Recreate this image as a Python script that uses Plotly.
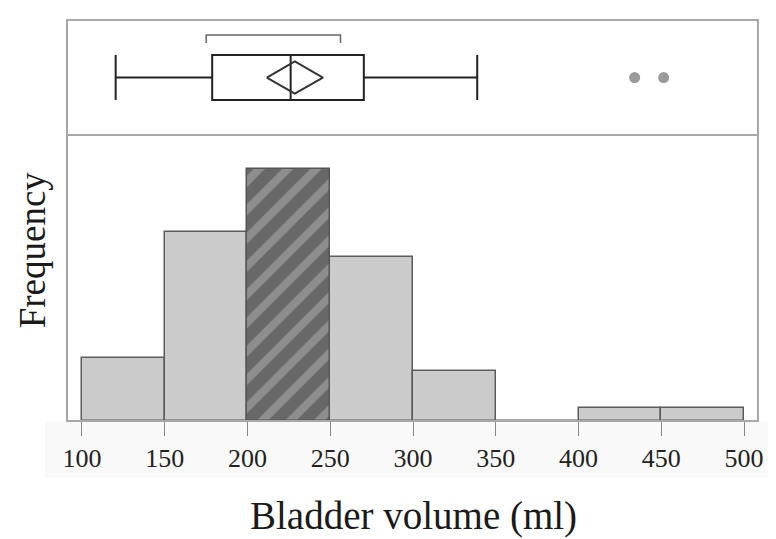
import plotly.graph_objects as go

# ---- data ----
bin_starts = [100, 150, 200, 250, 300, 350, 400, 450]
bin_width = 50
counts = [5, 15, 20, 13, 4, 0, 1, 1]
highlight_start = 200

whisker_low = 120.4
q1 = 178.7
median = 226.1
q3 = 270.3
whisker_high = 338.8
outliers = [433.9, 451.4]
mean = 228.6
mean_ci = [211.7, 245.6]
shortest_half = [175.1, 256.2]

x_ticks = [100, 150, 200, 250, 300, 350, 400, 450, 500]

# ---- build ----
centers = [s + bin_width / 2 for s in bin_starts]
plain_y = [c if s != highlight_start else 0 for s, c in zip(bin_starts, counts)]
hi_x = [c for s, c in zip(bin_starts, centers) if s == highlight_start]
hi_y = [c for s, c in zip(bin_starts, counts) if s == highlight_start]

SERIF = "Liberation Serif, Times New Roman, serif"
fig = go.Figure()

fig.add_trace(go.Bar(
    x=centers, y=plain_y, width=bin_width,
    marker=dict(color="#cbcbcb", line=dict(color="#5c5c5c", width=1.5)),
    xaxis="x", yaxis="y", showlegend=False, hoverinfo="skip"))

fig.add_trace(go.Bar(
    x=hi_x, y=hi_y, width=bin_width,
    marker=dict(color="#686868", line=dict(color="#555555", width=1.5),
                pattern=dict(shape="/", fgcolor="#8e8e8e", bgcolor="#686868",
                             size=20, solidity=0.4, fgopacity=1)),
    xaxis="x", yaxis="y", showlegend=False, hoverinfo="skip"))

# box plot panel
fig.add_trace(go.Box(
    y=[0.5], q1=[q1], median=[median], q3=[q3],
    lowerfence=[whisker_low], upperfence=[whisker_high],
    orientation="h", width=0.39, whiskerwidth=1.0,
    fillcolor="white", line=dict(color="#222222", width=2),
    boxpoints=False, xaxis="x", yaxis="y2", showlegend=False, hoverinfo="skip"))

fig.add_trace(go.Scatter(
    x=outliers, y=[0.5] * len(outliers), mode="markers",
    marker=dict(size=11, color="#9a9a9a"),
    xaxis="x", yaxis="y2", showlegend=False, hoverinfo="skip"))

h = 0.14
fig.add_trace(go.Scatter(
    x=[mean_ci[0], mean, mean_ci[1], mean, mean_ci[0]],
    y=[0.5, 0.5 + h, 0.5, 0.5 - h, 0.5], mode="lines",
    line=dict(color="#333333", width=2),
    xaxis="x", yaxis="y2", showlegend=False, hoverinfo="skip"))

fig.add_trace(go.Scatter(
    x=[shortest_half[0], shortest_half[0], shortest_half[1], shortest_half[1]],
    y=[0.80, 0.87, 0.87, 0.80], mode="lines",
    line=dict(color="#666666", width=1.5),
    xaxis="x", yaxis="y2", showlegend=False, hoverinfo="skip"))

split = 0.713
# page body has an 8px default margin, so the figure is sized/margined to compensate
fig.update_layout(
    width=768, height=531,
    margin=dict(l=59, r=14, t=12, b=118),
    paper_bgcolor="white", plot_bgcolor="white",
    barmode="overlay", bargap=0,
    xaxis=dict(range=[91, 508.4], tickvals=x_ticks, ticks="outside", ticklen=14,
               tickcolor="#888888", tickwidth=1, showgrid=False, zeroline=False,
               showline=False, tickfont=dict(family=SERIF, size=26, color="#222222"),
               anchor="y"),
    yaxis=dict(domain=[0, split], range=[0, 22.7], showticklabels=False,
               showgrid=False, zeroline=False, ticks=""),
    yaxis2=dict(domain=[split, 1], range=[0, 1], showticklabels=False,
                showgrid=False, zeroline=False, ticks="", anchor="x"),
    shapes=[
        dict(type="rect", xref="paper", yref="paper", x0=-0.0317, x1=1.03,
             y0=-0.142, y1=0, fillcolor="#f9f9f9", line=dict(width=0), layer="below"),
        dict(type="rect", xref="paper", yref="paper", x0=0, x1=1, y0=0, y1=1,
             line=dict(color="#a8a8a8", width=2)),
        dict(type="line", xref="paper", yref="paper", x0=0, x1=1, y0=split, y1=split,
             line=dict(color="#a8a8a8", width=2)),
    ],
    annotations=[
        dict(text="Frequency", xref="paper", yref="paper", x=-0.0504, y=0.426,
             textangle=-90, showarrow=False, xanchor="center", yanchor="middle",
             font=dict(family=SERIF, size=37, color="#1a1a1a")),
        dict(text="Bladder volume (ml)", xref="paper", yref="paper", x=0.502, y=-0.237,
             showarrow=False, xanchor="center", yanchor="middle",
             font=dict(family=SERIF, size=39, color="#1a1a1a")),
    ],
)

fig.write_html("out.html")
